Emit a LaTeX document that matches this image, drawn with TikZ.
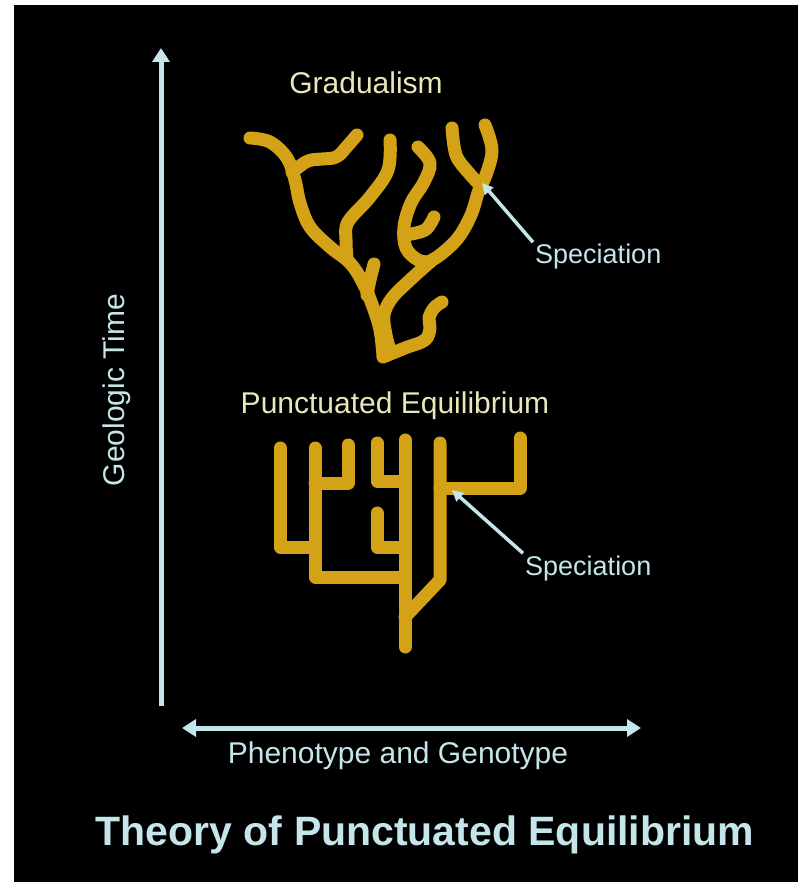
\documentclass[tikz,border=0pt]{standalone}
\usepackage{fontspec}
\setmainfont{Liberation Sans}
\usepackage{xcolor}
\usetikzlibrary{arrows.meta}
\definecolor{treegold}{RGB}{212,162,22}
\definecolor{axisblue}{RGB}{196,230,234}
\definecolor{headyellow}{RGB}{232,232,184}

\begin{document}
\begin{tikzpicture}[x=1pt,y=-1pt,
  branch/.style={treegold,line width=13pt,line cap=round,line join=round},
  axisline/.style={axisblue,line width=5pt},
  pointer/.style={axisblue,line width=3.5pt,-{Triangle[length=11pt,width=11pt]}},
  heading/.style={headyellow,font=\fontsize{30}{36}\selectfont,inner sep=0pt},
  axistext/.style={axisblue,font=\fontsize{30}{36}\selectfont,inner sep=0pt},
  spectext/.style={axisblue,font=\fontsize{27}{32}\selectfont,inner sep=2pt}]
\useasboundingbox (0,0) rectangle (798,882);
\fill[white] (0,0) rectangle (798,882);
\fill[black] (14,5) rectangle (798,882);
\coordinate (timebot) at (161,706);
\coordinate (timetop) at (161,48);
\coordinate (traitleft) at (182,728);
\coordinate (traitright) at (641,728);
\draw[axisline,-{Triangle[length=14pt,width=17pt]}] (timebot) -- (timetop);
\draw[axisline,{Triangle[length=14pt,width=17pt]}-{Triangle[length=14pt,width=17pt]}] (traitleft) -- (traitright);
\node[axistext,rotate=90,anchor=center] (timelabel) at (117,390) {Geologic Time};
\node[axistext,anchor=base] (traitlabel) at (398,763) {Phenotype and Genotype};
\node[axisblue,font=\fontsize{41}{48}\selectfont\bfseries,anchor=base,inner sep=0pt] (title) at (425,845) {Theory of Punctuated Equilibrium};
\node[heading,anchor=base] (gradlabel) at (366,94) {Gradualism};
\node[heading,anchor=base] (punclabel) at (395,413) {Punctuated Equilibrium};
\draw[branch] plot[smooth,tension=0.6] coordinates {(250,138) (270,142) (287,158) (295,180) (300,203) (310,227) (330,247) (350,263) (363,283) (373,307) (380,330) (383,356)};
\draw[branch,rounded corners=6pt] (292,172) -- (308,160) -- (337,158) -- (357,135);
\draw[branch] plot[smooth,tension=0.6] coordinates {(390,140) (388,170) (370,197) (348,222) (346,240) (347,258)};
\draw[branch] plot[smooth,tension=0.6] coordinates {(367,295) (370,280) (374,264)};
\draw[branch] plot[smooth,tension=0.6] coordinates {(418,147) (430,163) (424,182) (411,203) (404,227) (406,248) (418,260) (430,262)};
\draw[branch] plot[smooth,tension=0.6] coordinates {(405,235) (425,230) (434,217)};
\draw[branch] plot[smooth,tension=0.6] coordinates {(452,128) (456,155) (468,172) (480,185)};
\draw[branch] plot[smooth,tension=0.6] coordinates {(485,125) (492,150) (486,175) (479,190) (471,215) (458,238) (440,255) (428,262)};
\draw[branch] plot[smooth,tension=0.6] coordinates {(430,262) (410,280) (392,298) (384,315) (386,335) (390,350)};
\draw[branch] plot[smooth,tension=0.6] coordinates {(383,357) (405,348) (425,340) (430,328) (429,318) (434,308) (442,302)};
\draw[branch] (280,448) -- (280,547) -- (315,547);
\draw[branch] (315,448) -- (315,577) -- (405,577);
\draw[branch] (315,483) -- (348,483) -- (348,445);
\draw[branch] (405,440) -- (405,647);
\draw[branch] (377,443) -- (377,481) -- (405,481);
\draw[branch] (377,513) -- (377,547) -- (405,547);
\draw[branch] (440,443) -- (440,580) -- (405,617);
\draw[branch] (440,488) -- (520,488) -- (520,438);
\coordinate (gradsplit) at (482,183);
\coordinate (puncsplit) at (452,490);
\node[spectext,anchor=base west] (specgrad) at (533,264) {Speciation};
\node[spectext,anchor=base west] (specpunc) at (523,575) {Speciation};
\draw[pointer] (specgrad.north west) -- (gradsplit);
\draw[pointer] (specpunc.north west) -- (puncsplit);
\end{tikzpicture}
\end{document}
